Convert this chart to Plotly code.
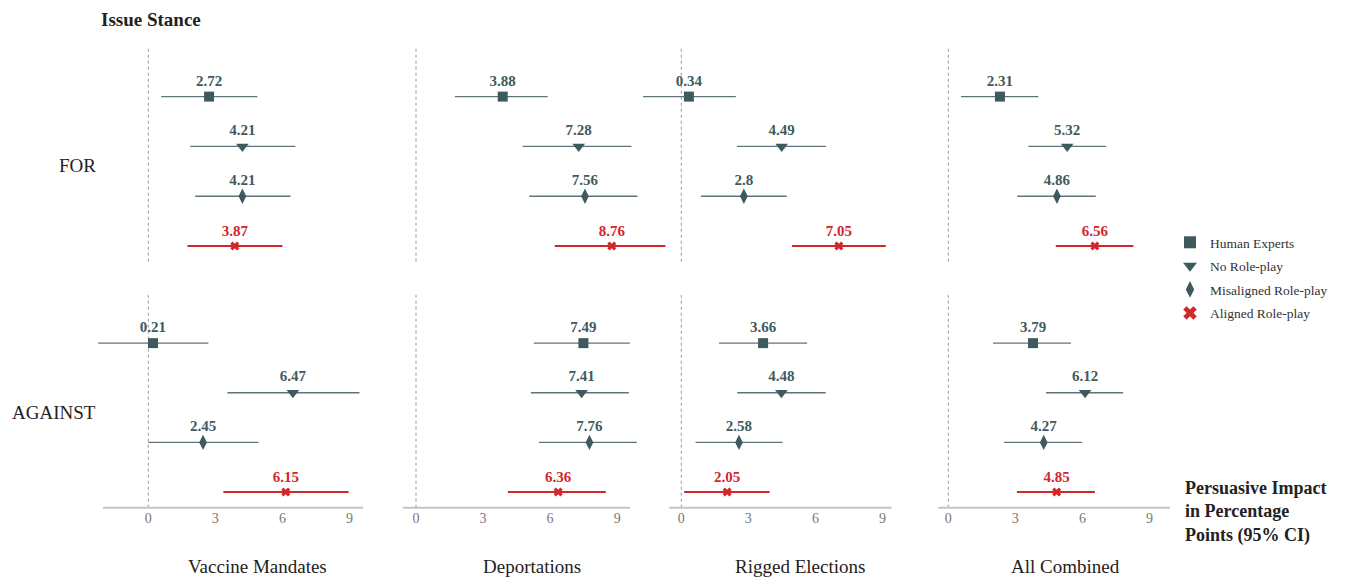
import plotly.graph_objects as go

# page is 1353x580 but the browser body keeps an 8px margin
OFF = 8
W, H = 1353 - OFF, 580 - OFF

topics = ["Vaccine Mandates", "Deportations", "Rigged Elections", "All Combined"]
stances = ["FOR", "AGAINST"]
series_names = ["Human Experts", "No Role-play", "Misaligned Role-play", "Aligned Role-play"]

# FOR stance: estimate, lower and upper 95% CI, per topic
for_human = [2.72, 3.88, 0.34, 2.31]
for_human_lo = [0.58, 1.74, -1.71, 0.57]
for_human_hi = [4.88, 5.89, 2.44, 4.03]
for_norole = [4.21, 7.28, 4.49, 5.32]
for_norole_lo = [1.88, 4.77, 2.49, 3.58]
for_norole_hi = [6.58, 9.64, 6.47, 7.06]
for_misaligned = [4.21, 7.56, 2.8, 4.86]
for_misaligned_lo = [2.10, 5.07, 0.88, 3.09]
for_misaligned_hi = [6.36, 9.91, 4.72, 6.60]
for_aligned = [3.87, 8.76, 7.05, 6.56]
for_aligned_lo = [1.75, 6.21, 4.95, 4.81]
for_aligned_hi = [6.00, 11.16, 9.15, 8.28]

# AGAINST stance
against_human = [0.21, 7.49, 3.66, 3.79]
against_human_lo = [-2.24, 5.27, 1.69, 2.00]
against_human_hi = [2.69, 9.57, 5.63, 5.49]
against_norole = [6.47, 7.41, 4.48, 6.12]
against_norole_lo = [3.54, 5.14, 2.50, 4.37]
against_norole_hi = [9.45, 9.52, 6.46, 7.82]
against_misaligned = [2.45, 7.76, 2.58, 4.27]
against_misaligned_lo = [0.00, 5.50, 0.64, 2.49]
against_misaligned_hi = [4.93, 9.88, 4.53, 5.98]
against_aligned = [6.15, 6.36, 2.05, 4.85]
against_aligned_lo = [3.36, 4.11, 0.13, 3.07]
against_aligned_hi = [8.96, 8.49, 3.95, 6.56]

tick_vals = [0, 3, 6, 9]
tick_text = ["0", "3", "6", "9"]

data = {
    "FOR": [
        (for_human, for_human_lo, for_human_hi),
        (for_norole, for_norole_lo, for_norole_hi),
        (for_misaligned, for_misaligned_lo, for_misaligned_hi),
        (for_aligned, for_aligned_lo, for_aligned_hi),
    ],
    "AGAINST": [
        (against_human, against_human_lo, against_human_hi),
        (against_norole, against_norole_lo, against_norole_hi),
        (against_misaligned, against_misaligned_lo, against_misaligned_hi),
        (against_aligned, against_aligned_lo, against_aligned_hi),
    ],
}

# styling
DARK = "#3f5a5e"
RED = "#d3262b"
CI_DARK = "#5f7478"
FONT = "Liberation Serif"
colors = [DARK, DARK, DARK, RED]
ci_colors = [CI_DARK, CI_DARK, CI_DARK, RED]
ci_widths = [1.4, 1.4, 1.4, 2.0]
symbols = ["square", "triangle-down", "diamond-tall", "x"]
msizes = [10, 11, 11, 8]
ypos = [3, 2, 1, 0]

# geometry (page pixels)
SCALE = 22.35                      # px per percentage point
zero_px = [148.3, 416.0, 681.3, 948.3]
axis_span = [(-2.03, 9.61), (-0.595, 9.575), (-0.537, 9.41), (-0.447, 9.92)]
ext_rng = (-2.5, 11.5)             # drawing range (wide so CIs are not clipped)
y_dom_px = [(48.3, 261.7), (295, 507.7)]
y_rng = [-0.316, 3.97]


def px(xp):
    return (xp - OFF) / W


def py(yp):
    return 1 - (yp - OFF) / H


fig = go.Figure()
layout = {}
shapes = []

for r, stance in enumerate(stances):
    for c, topic in enumerate(topics):
        idx = r * 4 + c + 1
        xa = "x" if idx == 1 else f"x{idx}"
        ya = "y" if idx == 1 else f"y{idx}"
        xkey = "xaxis" if idx == 1 else f"xaxis{idx}"
        ykey = "yaxis" if idx == 1 else f"yaxis{idx}"
        bottom = r == 1
        d0 = zero_px[c] + ext_rng[0] * SCALE
        d1 = zero_px[c] + ext_rng[1] * SCALE
        layout[xkey] = dict(
            domain=[px(d0), px(d1)],
            range=list(ext_rng),
            anchor=ya,
            showgrid=False,
            zeroline=False,
            showline=False,
            showticklabels=bottom,
            tickvals=tick_vals,
            ticktext=tick_text,
            ticks="",
            tickfont=dict(family=FONT, size=14, color="#777777"),
            fixedrange=True,
        )
        layout[ykey] = dict(
            domain=[py(y_dom_px[r][1]), py(y_dom_px[r][0])],
            range=y_rng,
            anchor=xa,
            visible=False,
            fixedrange=True,
        )
        shapes.append(dict(
            type="line", xref=xa, yref=f"{ya} domain",
            x0=0, x1=0, y0=0, y1=1,
            line=dict(color="#999999", width=1, dash="dot"),
            layer="below",
        ))
        if bottom:
            shapes.append(dict(
                type="line", xref=xa, yref=f"{ya} domain",
                x0=axis_span[c][0], x1=axis_span[c][1], y0=0, y1=0,
                line=dict(color="#c4c4c4", width=2),
                layer="below",
            ))
        for s, name in enumerate(series_names):
            est, lo, hi = data[stance][s]
            v = est[c]
            fig.add_trace(go.Scatter(
                x=[v], y=[ypos[s]],
                xaxis=xa, yaxis=ya,
                mode="markers+text",
                text=[f"{v:g}"],
                textposition="top center",
                textfont=dict(family=FONT, size=15, color=colors[s], weight="bold"),
                marker=dict(symbol=symbols[s], size=msizes[s], color=colors[s],
                            line=dict(width=0)),
                error_x=dict(type="data", symmetric=False,
                             array=[hi[c] - v], arrayminus=[v - lo[c]],
                             color=ci_colors[s], thickness=ci_widths[s], width=0),
                cliponaxis=False,
                name=name,
                legendgroup=name,
                showlegend=(idx == 1),
                hoverinfo="skip",
            ))

annotations = []
title_x_px = [257, 532, 800, 1065]
for c, topic in enumerate(topics):
    annotations.append(dict(
        text=topic, x=px(title_x_px[c]), y=py(566), xref="paper", yref="paper",
        xanchor="center", yanchor="middle", showarrow=False,
        font=dict(family=FONT, size=19, color="#222222"),
    ))
row_y_px = [165, 412]
for r, stance in enumerate(stances):
    annotations.append(dict(
        text=stance, x=px(98), y=py(row_y_px[r]), xref="paper", yref="paper",
        xanchor="right", yanchor="middle", showarrow=False,
        font=dict(family=FONT, size=19, color="#222222"),
    ))
annotations.append(dict(
    text="<b>Issue Stance</b>", x=px(100), y=py(8), xref="paper", yref="paper",
    xanchor="left", yanchor="top", showarrow=False, borderpad=0,
    font=dict(family=FONT, size=19, color="#222222"),
))
annotations.append(dict(
    text="<b>Persuasive Impact<br>in Percentage<br>Points (95% CI)</b>",
    x=px(1183), y=py(511.5), xref="paper", yref="paper",
    xanchor="left", yanchor="middle", align="left", showarrow=False,
    font=dict(family=FONT, size=18, color="#222222"),
))

fig.update_layout(
    width=W, height=H,
    margin=dict(l=0, r=0, t=0, b=0),
    paper_bgcolor="white", plot_bgcolor="rgba(0,0,0,0)",
    font=dict(family=FONT),
    shapes=shapes,
    annotations=annotations,
    showlegend=True,
    legend=dict(
        x=px(1170), y=py(227), xanchor="left", yanchor="top",
        font=dict(family=FONT, size=13.5, color="#333333"),
        tracegroupgap=3, bgcolor="rgba(0,0,0,0)",
        itemsizing="constant",
    ),
    **layout,
)

fig.write_html("out.html")
